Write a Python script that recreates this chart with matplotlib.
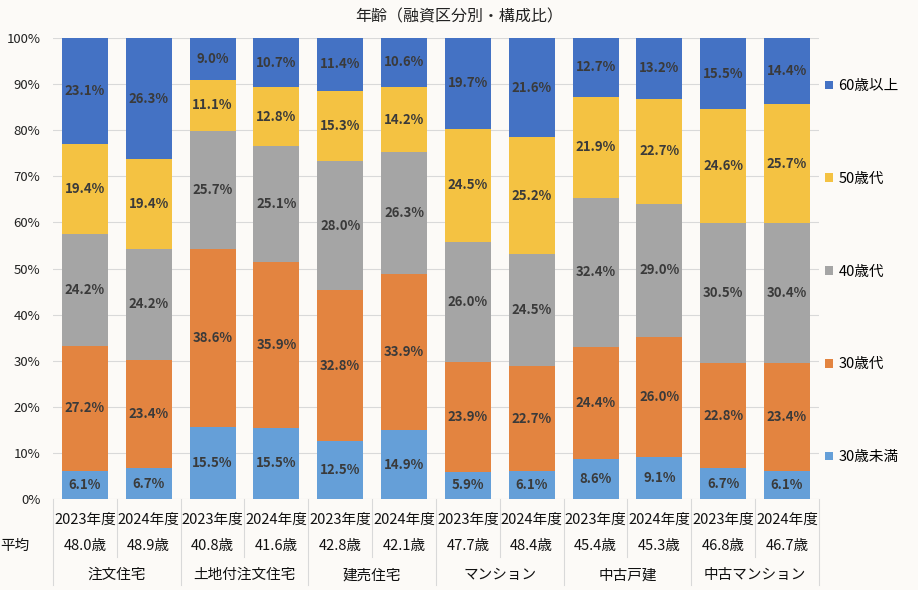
import numpy as np
import matplotlib.pyplot as plt
from matplotlib.patches import Patch
from matplotlib.transforms import blended_transform_factory

plt.rcParams['font.family'] = ['Noto Sans CJK JP', 'DejaVu Sans']

# ---------------------------------------------------------
# DATA
# ---------------------------------------------------------

groups = ["注文住宅", "土地付注文住宅", "建売住宅", "マンション", "中古戸建", "中古マンション"]
years = ["2023年度", "2024年度"]
avg_age = ["48.0歳", "48.9歳", "40.8歳", "41.6歳", "42.8歳", "42.1歳",
           "47.7歳", "48.4歳", "45.4歳", "45.3歳", "46.8歳", "46.7歳"]

series_names = ["30歳未満", "30歳代", "40歳代", "50歳代", "60歳以上"]
under30 = [6.1, 6.7, 15.5, 15.5, 12.5, 14.9, 5.9, 6.1, 8.6, 9.1, 6.7, 6.1]
age30s = [27.2, 23.4, 38.6, 35.9, 32.8, 33.9, 23.9, 22.7, 24.4, 26.0, 22.8, 23.4]
age40s = [24.2, 24.2, 25.7, 25.1, 28.0, 26.3, 26.0, 24.5, 32.4, 29.0, 30.5, 30.4]
age50s = [19.4, 19.4, 11.1, 12.8, 15.3, 14.2, 24.5, 25.2, 21.9, 22.7, 24.6, 25.7]
over60 = [23.1, 26.3, 9.0, 10.7, 11.4, 10.6, 19.7, 21.6, 12.7, 13.2, 15.5, 14.4]

colors = ["#659FD8", "#E38440", "#A5A5A5", "#F4C242", "#4472C4"]

# ---------------------------------------------------------
# PLOT
# ---------------------------------------------------------

bg = "#FCFAF7"
fig = plt.figure(figsize=(9.18, 5.90), dpi=100, facecolor=bg)
ax = fig.add_axes([0.0577, 0.1542, 0.8344, 0.7814], facecolor=bg)

vals = np.array([under30, age30s, age40s, age50s, over60])
totals = vals.sum(axis=0)
pct = vals / totals * 100
n = vals.shape[1]
x = np.arange(n)

bottom = np.zeros(n)
for i, name in enumerate(series_names):
    ax.bar(x, pct[i], bottom=bottom, width=0.72, color=colors[i],
           label=name, zorder=2)
    for j in range(n):
        ax.text(x[j], bottom[j] + pct[i][j] / 2, f"{vals[i][j]:.1f}%",
                ha="center", va="center", fontsize=9.5, color="#3A3A3A",
                fontweight="bold", zorder=3)
    bottom += pct[i]

ax.set_xlim(-0.5, n - 0.5)
ax.set_ylim(0, 100)
ax.set_yticks(np.arange(0, 101, 10))
ax.set_yticklabels([f"{v}%" for v in range(0, 101, 10)], fontsize=9.5,
                   color="#222222")
ax.set_xticks([])
ax.tick_params(axis="y", length=0, pad=9)
ax.grid(axis="y", color="#D9D9D9", linewidth=0.8, zorder=0)
for s in ax.spines.values():
    s.set_visible(False)

# ---------------------------------------------------------
# TABLE BELOW AXIS
# ---------------------------------------------------------

tr = blended_transform_factory(ax.transData, ax.transAxes)
line_kw = dict(color="#D9D9D9", linewidth=0.8, clip_on=False, transform=tr)

for j in range(n):
    ax.text(x[j], -0.046, years[j % 2], transform=tr, ha="center",
            va="center", fontsize=10.5, color="#111111")
    ax.text(x[j], -0.102, avg_age[j], transform=tr, ha="center",
            va="center", fontsize=10.5, color="#111111")

for g, name in enumerate(groups):
    ax.text(2 * g + 0.5, -0.165, name, transform=tr, ha="center",
            va="center", fontsize=10.5, color="#111111")

for k in range(n + 1):
    xe = k - 0.5
    if k % 2 == 0:
        ax.plot([xe, xe], [0, -0.187], **line_kw)
    else:
        ax.plot([xe, xe], [0, -0.126], **line_kw)

ax.text(-0.03, -0.102, "平均", transform=ax.transAxes, ha="right",
        va="center", fontsize=10.5, color="#111111")

# ---------------------------------------------------------
# TITLE / LEGEND
# ---------------------------------------------------------

fig.text(0.5, 0.972, "年齢（融資区分別・構成比）", ha="center", va="center",
         fontsize=11.5, color="#222222")

handles = [Patch(facecolor=colors[i], label=series_names[i])
           for i in range(4, -1, -1)]
fig.legend(handles=handles, loc="upper left", bbox_to_anchor=(0.884, 0.888),
           frameon=False, fontsize=10.5, handlelength=0.55, handleheight=0.55,
           handletextpad=0.4, labelspacing=5.4)

plt.savefig("out.png", dpi=100, facecolor=bg)
plt.close()
